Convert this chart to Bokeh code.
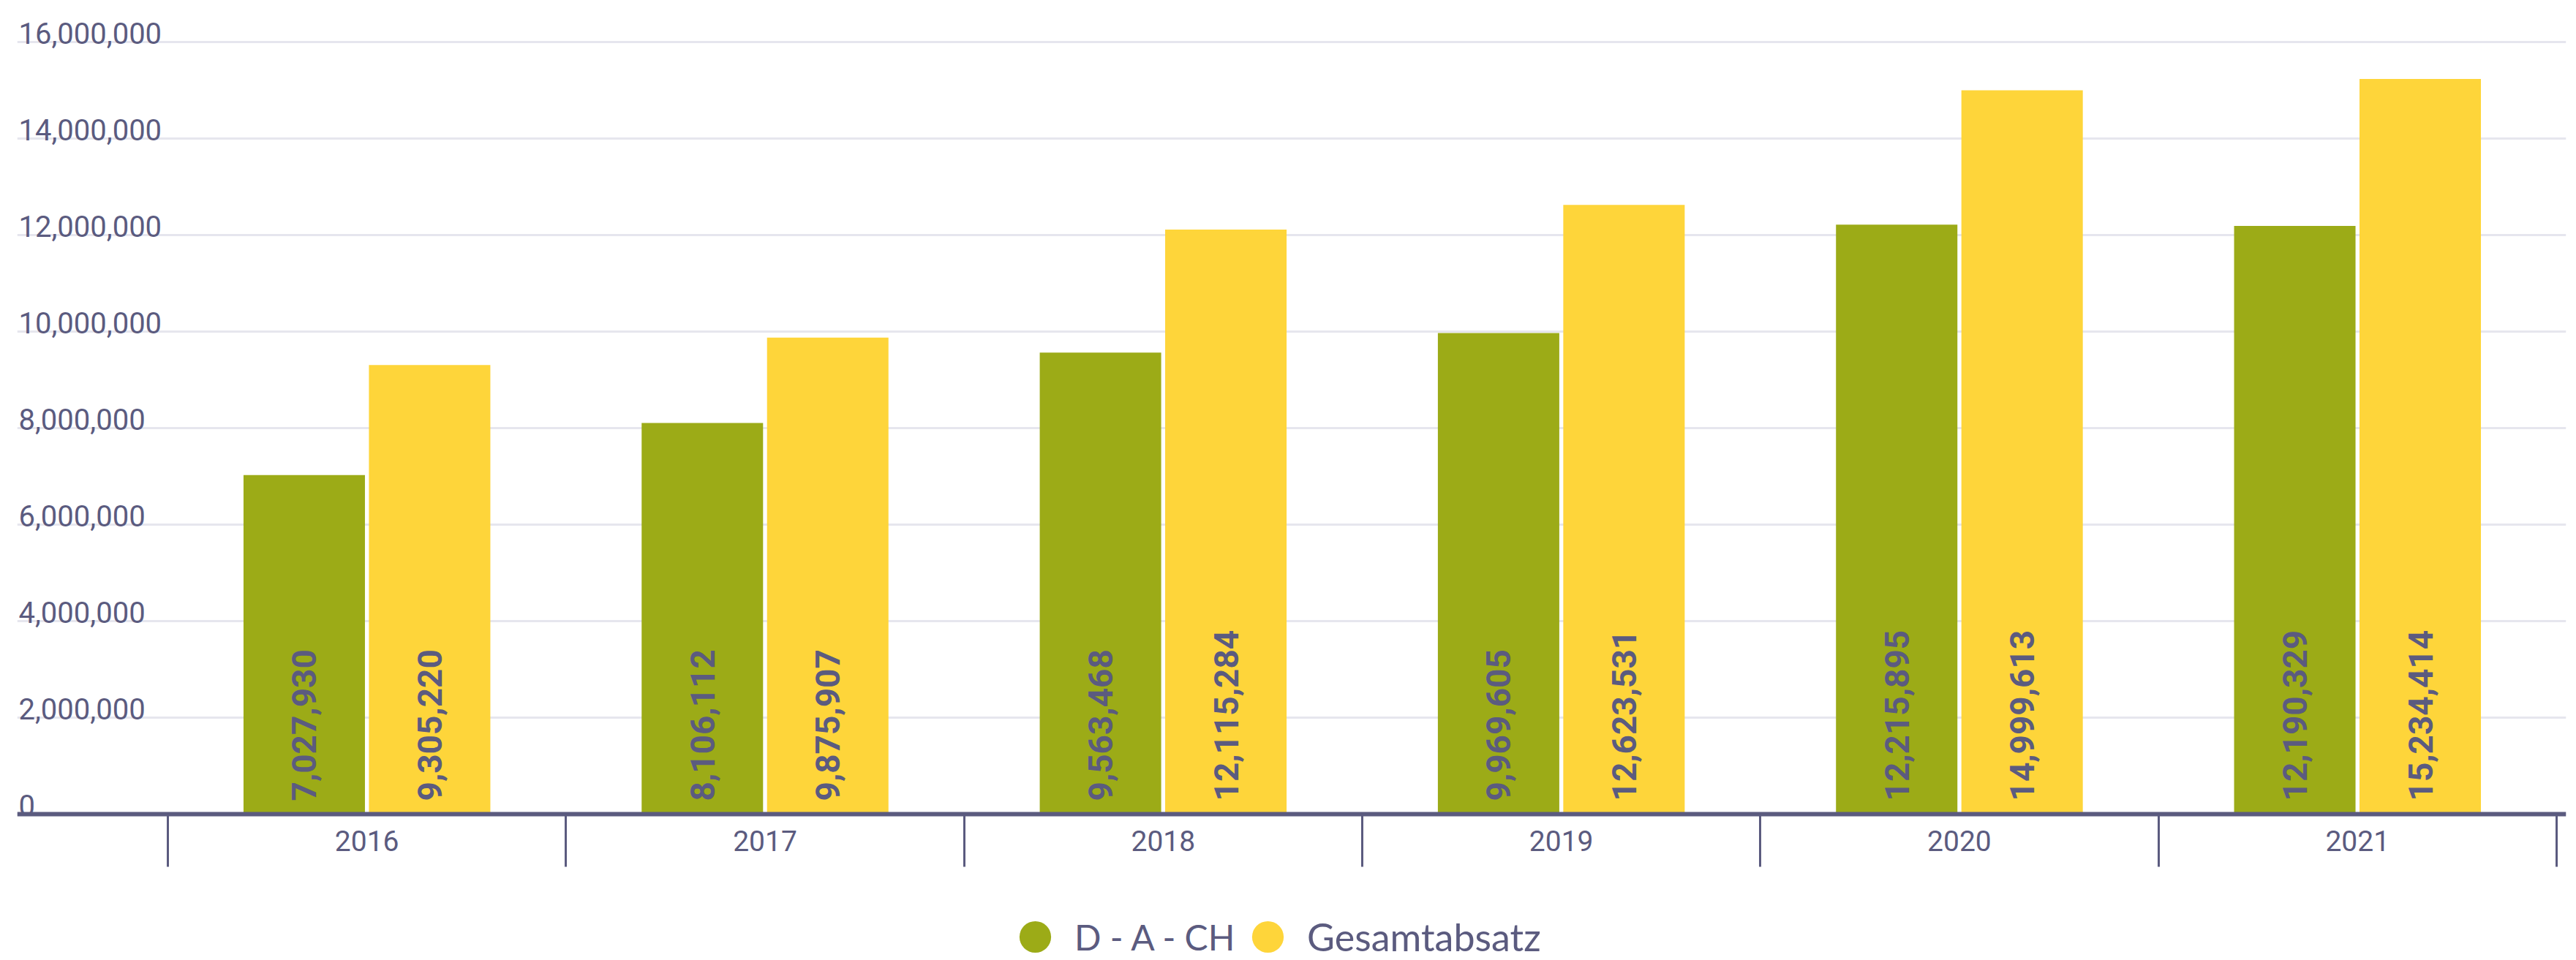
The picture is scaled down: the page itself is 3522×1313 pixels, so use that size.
import math
from bokeh.plotting import figure
from bokeh.models import (ColumnDataSource, Range1d, FixedTicker, LinearAxis, Grid,
                          Legend, LegendItem, CustomJSTickFormatter)
from bokeh.transform import dodge
from bokeh.core.properties import value
from bokeh.embed import file_html
from bokeh.resources import INLINE

# ---- data ----
years = ["2016", "2017", "2018", "2019", "2020", "2021"]
dach = [7027930, 8106112, 9563468, 9969605, 12215895, 12190329]
gesamt = [9305220, 9875907, 12115284, 12623531, 14999613, 15234414]
series_names = ["D - A - CH", "Gesamtabsatz"]
y_ticks = [0, 2000000, 4000000, 6000000, 8000000, 10000000, 12000000, 14000000, 16000000]

# ---- style ----
TEXT = "#5b5b7f"
GREEN = "#9cab17"
YELLOW = "#fed53a"
GRID = "#e6e6ee"

X_START, X_END = -0.3785, 6.024
Y_START, Y_END = -3015000, 16864000

p = figure(width=3520, height=1312, output_backend="svg", toolbar_location=None,
           x_range=Range1d(X_START, X_END), y_range=Range1d(Y_START, Y_END),
           x_axis_location=None, y_axis_location=None,
           min_border_left=23, min_border_right=12, min_border_top=0, min_border_bottom=0)
p.outline_line_color = None
p.background_fill_color = "white"
p.border_fill_color = "white"
p.xgrid.visible = False
p.ygrid.visible = False

xs = [i + 0.5 for i in range(len(years))]
src = ColumnDataSource(dict(
    x=xs, year=years, dach=dach, gesamt=gesamt,
    dach_lbl=[f"{v:,}" for v in dach],
    gesamt_lbl=[f"{v:,}" for v in gesamt],
))

OFF = 0.1575
BW = 0.305

p.add_layout(Grid(dimension=1, ticker=FixedTicker(ticks=y_ticks),
                  grid_line_color=GRID, grid_line_width=3))

p.vbar(x=dodge("x", -OFF), top="dach", width=BW, source=src,
       fill_color=GREEN, line_color=None)
p.vbar(x=dodge("x", OFF), top="gesamt", width=BW, source=src,
       fill_color=YELLOW, line_color=None)

lbl_kw = dict(angle=math.pi / 2, text_align="left", text_baseline="middle",
              y_offset=-18, text_font=value("Roboto"), text_font_style="bold",
              text_font_size="46px", text_color=TEXT)
p.text(x=dodge("x", -OFF), y=0, text="dach_lbl", source=src, **lbl_kw)
p.text(x=dodge("x", OFF), y=0, text="gesamt_lbl", source=src, **lbl_kw)

# y tick labels sitting above gridlines
ysrc = ColumnDataSource(dict(y=y_ticks, lbl=[f"{t:,}" for t in y_ticks]))
p.text(x=X_START, y="y", text="lbl", source=ysrc, text_align="left",
       text_baseline="alphabetic", x_offset=2, y_offset=-12,
       text_font=value("Roboto"), text_font_size="40px", text_color=TEXT)

# x axis fixed at y = 0
xaxis = LinearAxis(
    fixed_location=0,
    ticker=FixedTicker(ticks=xs, minor_ticks=list(range(len(years) + 1))),
    formatter=CustomJSTickFormatter(args=dict(years=years),
                                    code="return years[Math.floor(tick)] || ''"),
    axis_line_color=TEXT, axis_line_width=6,
    major_tick_out=0, major_tick_in=0,
    minor_tick_out=72, minor_tick_in=0,
    minor_tick_line_color=TEXT, minor_tick_line_width=3,
    major_label_text_font="Roboto", major_label_text_font_size="39px",
    major_label_text_color=TEXT, major_label_standoff=-50,
)
p.add_layout(xaxis, "below")

# legend with circle markers (zero-size markers, legend glyph only)
r1 = p.scatter(x="x", y="dach", source=src, size=0, marker="circle",
               fill_color=GREEN, line_color=None)
r2 = p.scatter(x="x", y="gesamt", source=src, size=0, marker="circle",
               fill_color=YELLOW, line_color=None)

leg_kw = dict(orientation="horizontal", glyph_width=108, glyph_height=108,
              label_standoff=0, spacing=0, padding=0, margin=0,
              border_line_color=None, background_fill_alpha=0,
              label_text_font="Lato", label_text_color=TEXT)
legend1 = Legend(items=[LegendItem(label=series_names[0], renderers=[r1])],
                 location=(1338, -23), label_text_font_size="48px", **leg_kw)
legend2 = Legend(items=[LegendItem(label=series_names[1], renderers=[r2])],
                 location=(1656, -23), label_text_font_size="52px", **leg_kw)
p.add_layout(legend1, "center")
p.add_layout(legend2, "center")

open("out.html", "w").write(file_html(p, INLINE))
